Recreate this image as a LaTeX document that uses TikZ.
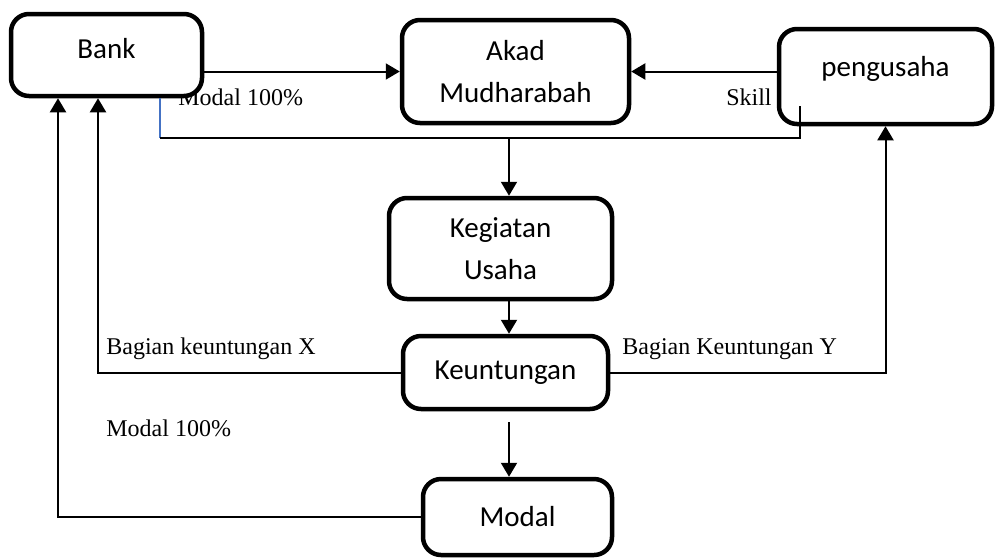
\documentclass[tikz,border=0pt]{standalone}
\usepackage{fontspec}
\setmainfont{Liberation Serif}
\newfontfamily\boxfont{Carlito}
\usetikzlibrary{arrows.meta,calc}
\definecolor{linkblue}{RGB}{68,114,196}

\begin{document}
\begin{tikzpicture}[x=0.5pt, y=-0.5pt,
  box/.style={rectangle, rounded corners=9pt, draw=black, line width=2.25pt, fill=white, align=center, font=\boxfont\fontsize{14.5}{21}\selectfont},
  lbl/.style={font=\fontsize{12}{14}\selectfont, inner sep=0pt},
  conn/.style={line width=1pt},
  arr/.style={line width=1pt, -{Triangle[width=8pt,length=7pt]}}]
  \useasboundingbox (0,0) rectangle (995,558);

  % labels on the lines
  \node (modaltop) [lbl, anchor=base west] at (178,105) {Modal 100\%};
  \node (skill) [lbl, anchor=base east] at (772,105) {Skill};
  \node (bagx) [lbl, anchor=base west] at (106,354) {Bagian keuntungan X};
  \node (bagy) [lbl, anchor=base west] at (622,354) {Bagian Keuntungan Y};
  \node (modalbot) [lbl, anchor=base west] at (106,436) {Modal 100\%};

  % boxes
  \node (bank) [box, minimum width=95.5pt, minimum height=41pt, text depth=7pt] at (106.5,55) {Bank};
  \node (akad) [box, minimum width=113.5pt, minimum height=51.5pt] at (515.5,71.5) {Akad\\Mudharabah};
  \node (peng) [box, minimum width=106.5pt, minimum height=47.5pt, text depth=10pt] at (885.5,76.5) {pengusaha};
  \node (keg) [box, minimum width=111.5pt, minimum height=50.5pt] at (500.5,248.5) {Kegiatan\\Usaha};
  \node (keu) [box, minimum width=102.5pt, minimum height=36.5pt] at (505.5,372.5) {Keuntungan};
  \node (modal) [box, minimum width=94.5pt, minimum height=38pt] at (517.5,517) {Modal};

  \coordinate (jl) at (160,138);
  \coordinate (jr) at (800,138);
  \coordinate (jt) at (800,106);
  \coordinate (mid) at (509,138);
  \coordinate (xl) at (98,374);
  \coordinate (ml) at (58,513);

  \draw [arr] (bank.east |- akad.west) -- (akad.west);
  \draw [arr] (peng.west |- akad.east) -- (akad.east);
  \draw [linkblue, line width=0.65pt] (bank.south -| jl) -- (jl);
  \draw [conn] (jl) -- (jr) -- (jt);
  \draw [arr] (mid) -- (mid |- keg.north);
  \draw [arr] (mid |- keg.south) -- (mid |- keu.north);
  \draw [arr] ($(mid |- keu.south)+(0,11)$) -- (mid |- modal.north);
  \draw [arr] (keu.west) -- (xl |- keu.west) -- (xl |- bank.south);
  \draw [arr] (keu.east) -- (peng.south |- keu.east) -- (peng.south);
  \draw [arr] (modal.west) -- (ml |- modal.west) -- (ml |- bank.south);
\end{tikzpicture}
\end{document}
